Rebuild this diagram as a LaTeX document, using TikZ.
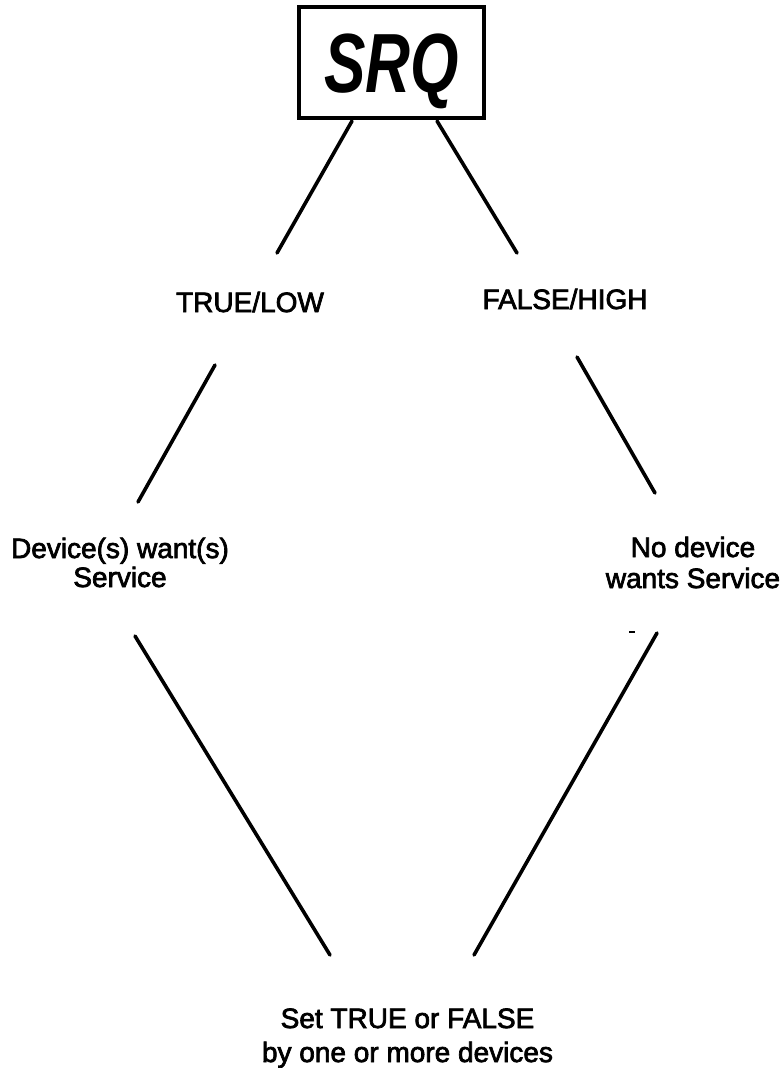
\documentclass[tikz,border=0pt]{standalone}
\usepackage{fontspec}
\setmainfont{Liberation Sans}
\font\lblf="Liberation Sans:embolden=2.5" at 28pt
\begin{document}
\begin{tikzpicture}[x=1pt,y=-1pt,
  lbl/.style={inner sep=0pt, align=center},
  stroke/.style={line width=3.6pt, line cap=round}]
\useasboundingbox (0,0) rectangle (783,1068);
\node[draw, line width=3.6pt, minimum width=185pt, minimum height=111pt, inner sep=0pt,
  text height=60pt, text depth=0pt]
  (srq) at (391.5,62.5) {\scalebox{0.74}[1]{\fontsize{84}{84}\selectfont\bfseries\itshape SRQ}};
\node[lbl, anchor=base, font=\lblf] (tl) at (250,312) {TRUE/LOW};
\node[lbl, anchor=base, font=\lblf] (fh) at (565,309) {FALSE/HIGH};
\node[lbl, anchor=base, font={\lblf\baselineskip=29pt}] (dw) at (120,587) {Device(s) want(s)\\Service};
\node[lbl, anchor=base, font={\lblf\baselineskip=31pt}] (nd) at (693,588) {No device\\wants Service};
\node[lbl, anchor=base, font={\lblf\baselineskip=34pt}] (st) at (407.5,1062) {Set TRUE or FALSE\\by one or more devices};
\coordinate (a1) at (352,121);
\coordinate (a2) at (277,253);
\coordinate (b1) at (437,121);
\coordinate (b2) at (517,253);
\coordinate (c1) at (215,365);
\coordinate (c2) at (138,502);
\coordinate (d1) at (577,357);
\coordinate (d2) at (655,493);
\coordinate (e1) at (135,636);
\coordinate (e2) at (330,955);
\coordinate (f1) at (657,633);
\coordinate (f2) at (474,955);
\coordinate (g1) at (629,632);
\coordinate (g2) at (635,632);
\draw[stroke] (a1) -- (a2);
\draw[stroke] (b1) -- (b2);
\draw[stroke] (c1) -- (c2);
\draw[stroke] (d1) -- (d2);
\draw[stroke] (e1) -- (e2);
\draw[stroke] (f1) -- (f2);
\draw[line width=1.5pt] (g1) -- (g2);
\end{tikzpicture}
\end{document}
